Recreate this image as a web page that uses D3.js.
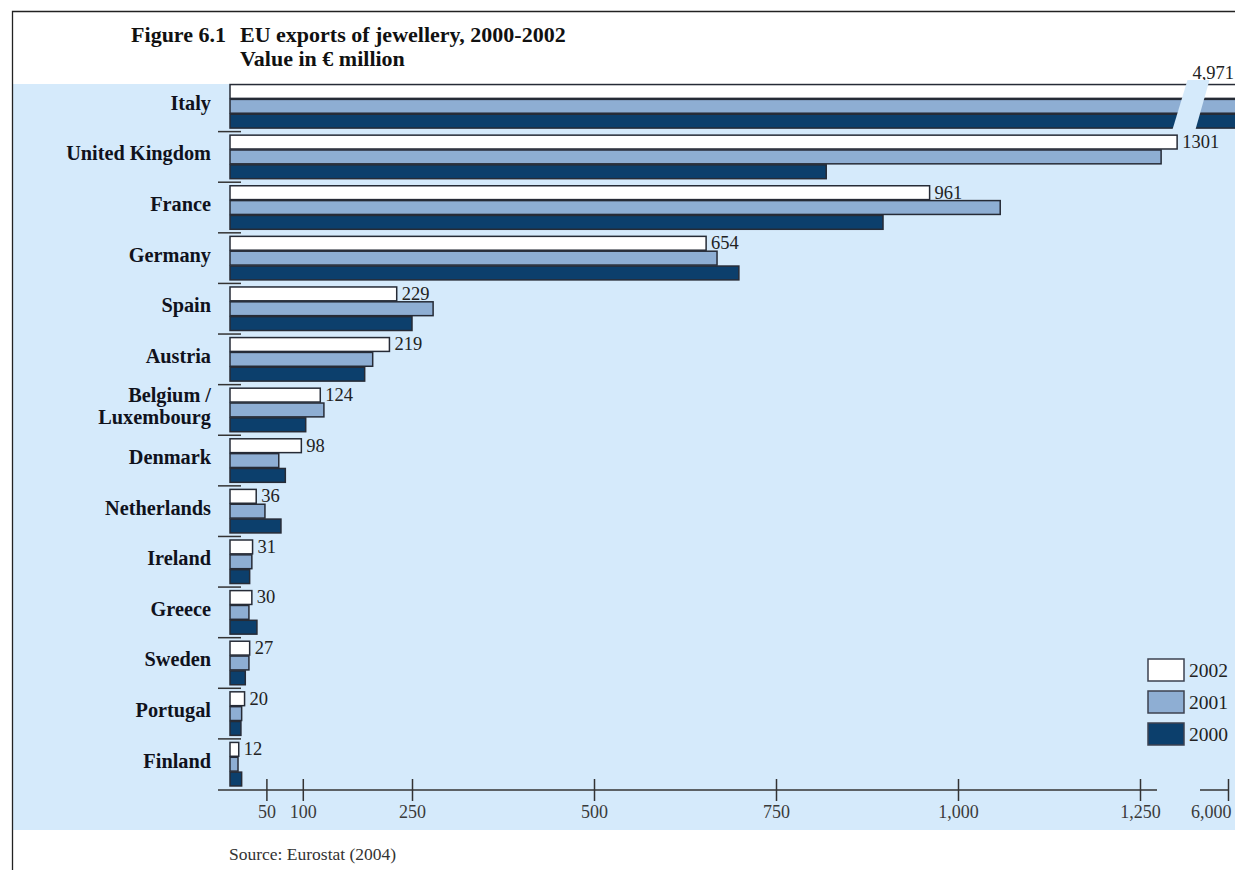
<!DOCTYPE html>
<html>
<head>
<meta charset="utf-8">
<script src="https://cdn.jsdelivr.net/npm/d3@7/dist/d3.min.js"></script>
<style>
  html, body { margin: 0; padding: 0; background: #fff; }
  svg { display: block; }
  text { font-family: "Liberation Serif", "Times New Roman", serif; }
</style>
</head>
<body>
<svg id="chart" width="1235" height="870"></svg>
<script>
// EU exports of jewellery, value in € million
const countries = ["Italy", "United Kingdom", "France", "Germany", "Spain", "Austria",
  "Belgium / Luxembourg", "Denmark", "Netherlands", "Ireland", "Greece", "Sweden",
  "Portugal", "Finland"];
const years = ["2002", "2001", "2000"];
const values2002 = [4971, 1301, 961, 654, 229, 219, 124, 98, 36, 31, 30, 27, 20, 12];
const values2001 = [5200, 1279, 1058, 669, 279, 196, 129, 67, 48, 30, 26, 26, 16, 11];
const values2000 = [5400, 819, 897, 699, 250, 185, 104, 76, 70, 27, 37, 21, 15, 16];
const lowTicks = [50, 100, 250, 500, 750, 1000, 1250];
const highTicks = [6000];
const breakValue = 1350;   // end of the lower axis segment

const W = 1235, H = 870;
const colors = { "2002": "#ffffff", "2001": "#8eaed3", "2000": "#0c3f6c" };
const outline = "#262b36";
const bg = "#d5eafb";

const seriesByYear = { "2002": values2002, "2001": values2001, "2000": values2000 };
const rows = countries.map((c, i) => ({
  country: c,
  vals: years.map(y => ({ year: y, value: seriesByYear[y][i] }))
}));

const svg = d3.select("#chart");

// frame and shaded panel
svg.append("rect").attr("x", 12.5).attr("y", 84).attr("width", W - 12.5).attr("height", 746)
  .attr("fill", bg);
svg.append("path").attr("d", `M12.5,${H} V11.5 H${W}`)
  .attr("fill", "none").attr("stroke", "#222").attr("stroke-width", 1.3);

// title
const titleSize = 22;
svg.append("text").attr("x", 226).attr("y", 42).attr("text-anchor", "end")
  .attr("font-size", titleSize).attr("font-weight", "bold").attr("fill", "#111").text("Figure 6.1");
svg.append("text").attr("x", 240).attr("y", 42).attr("font-size", titleSize).attr("font-weight", "bold")
  .attr("fill", "#111").text("EU exports of jewellery, 2000-2002");
svg.append("text").attr("x", 240).attr("y", 66).attr("font-size", titleSize).attr("font-weight", "bold")
  .attr("fill", "#111").text("Value in € million");

// scales
const x = d3.scaleLinear().domain([0, 1250]).range([230, 1140]);
const xHigh = d3.scaleLinear().domain([5000, 6000]).range([1172, 1228]);
const y = d3.scaleBand().domain(countries).range([81, 789.5]).paddingInner(0.12).paddingOuter(0.06);
const ySub = d3.scaleBand().domain(years).range([0, y.bandwidth()]);

// values past the break run off the right edge of the panel
const barEnd = v => v > breakValue ? W + 10 : x(v);

const groups = svg.append("g").selectAll("g").data(rows).join("g")
  .attr("transform", d => `translate(0,${y(d.country)})`);

groups.selectAll("rect").data(d => d.vals).join("rect")
  .attr("x", x(0))
  .attr("y", d => ySub(d.year) + 0.5)
  .attr("width", d => barEnd(d.value) - x(0))
  .attr("height", ySub.bandwidth() - 1)
  .attr("fill", d => colors[d.year])
  .attr("stroke", outline)
  .attr("stroke-width", 1.5);

// axis break across the Italy bars
const italyTop = y(countries[0]);
const bx = (x(1250) + 17 + xHigh(6000) - 28) / 2 + 12;
svg.append("path")
  .attr("d", `M${bx - 3},${italyTop - 4} L${bx + 19},${italyTop - 4} L${bx + 5},${italyTop + y.bandwidth() + 1} L${bx - 18},${italyTop + y.bandwidth() + 1} Z`)
  .attr("fill", bg);

// value labels for 2002
const fmt = v => v >= 2000 ? d3.format(",")(v) : String(v);
groups.append("text")
  .attr("x", d => d.vals[0].value > breakValue ? W - 1 : x(d.vals[0].value) + 5)
  .attr("y", d => d.vals[0].value > breakValue ? -5 : ySub.bandwidth() - 1.5)
  .attr("text-anchor", d => d.vals[0].value > breakValue ? "end" : "start")
  .attr("font-size", 18.5).attr("fill", "#222")
  .text(d => fmt(d.vals[0].value));

// category labels
groups.append("text")
  .attr("x", 211)
  .attr("text-anchor", "end")
  .attr("font-size", 20.3).attr("font-weight", "bold").attr("fill", "#10121c")
  .each(function(d) {
    const parts = d.country.includes(" / ") ? [d.country.split(" / ")[0] + " /", d.country.split(" / ")[1]] : [d.country];
    const t = d3.select(this);
    const mid = y.bandwidth() / 2;
    const start = mid + 3.5 - (parts.length - 1) * 11;
    parts.forEach((p, i) => t.append("tspan").attr("x", 211).attr("y", start + i * 22).text(p));
  });

// separators between countries
svg.append("g").selectAll("line").data(countries.slice(1)).join("line")
  .attr("x1", 218).attr("x2", 241)
  .attr("y1", d => y(d) - y.step() * y.paddingInner() / 2)
  .attr("y2", d => y(d) - y.step() * y.paddingInner() / 2)
  .attr("stroke", "#333").attr("stroke-width", 1.5);

// x axis, lower segment
const axisY = 790;
const axisLow = svg.append("g").attr("transform", `translate(0,${axisY})`)
  .call(d3.axisBottom(x).tickValues(lowTicks).tickFormat(d3.format(",")).tickSize(12).tickPadding(8));
axisLow.select(".domain").attr("d", `M218,0H${x(1250) + 17}`);
// axis, upper segment
const axisHigh = svg.append("g").attr("transform", `translate(0,${axisY})`)
  .call(d3.axisBottom(xHigh).tickValues(highTicks).tickFormat(d3.format(",")).tickSize(12).tickPadding(8));
axisHigh.select(".domain").attr("d", `M${xHigh(6000) - 28},0H${xHigh(6000)}`);

svg.selectAll(".domain").attr("stroke", "#333").attr("stroke-width", 1.5);
svg.selectAll(".tick line").attr("y1", -11).attr("y2", 11).attr("stroke", "#333").attr("stroke-width", 1.5);
svg.selectAll(".tick text").attr("font-family", "Liberation Serif, serif").attr("font-size", 18)
  .attr("fill", "#3a3a3a").attr("dy", "0.6em").attr("y", 17);
axisHigh.selectAll(".tick text").attr("text-anchor", "end").attr("dx", 3);

// legend
const legend = svg.append("g").attr("transform", "translate(1148,659)");
const leg = legend.selectAll("g").data(years).join("g")
  .attr("transform", (d, i) => `translate(0,${i * 32})`);
leg.append("rect").attr("width", 36).attr("height", 22)
  .attr("fill", d => colors[d]).attr("stroke", "#3c4250").attr("stroke-width", 1.5);
leg.append("text").attr("x", 41).attr("y", 18).attr("font-size", 19.5).attr("fill", "#222").text(d => d);

// source note
svg.append("text").attr("x", 229).attr("y", 860).attr("font-size", 17.5).attr("fill", "#333")
  .text("Source: Eurostat (2004)");
</script>
</body>
</html>
